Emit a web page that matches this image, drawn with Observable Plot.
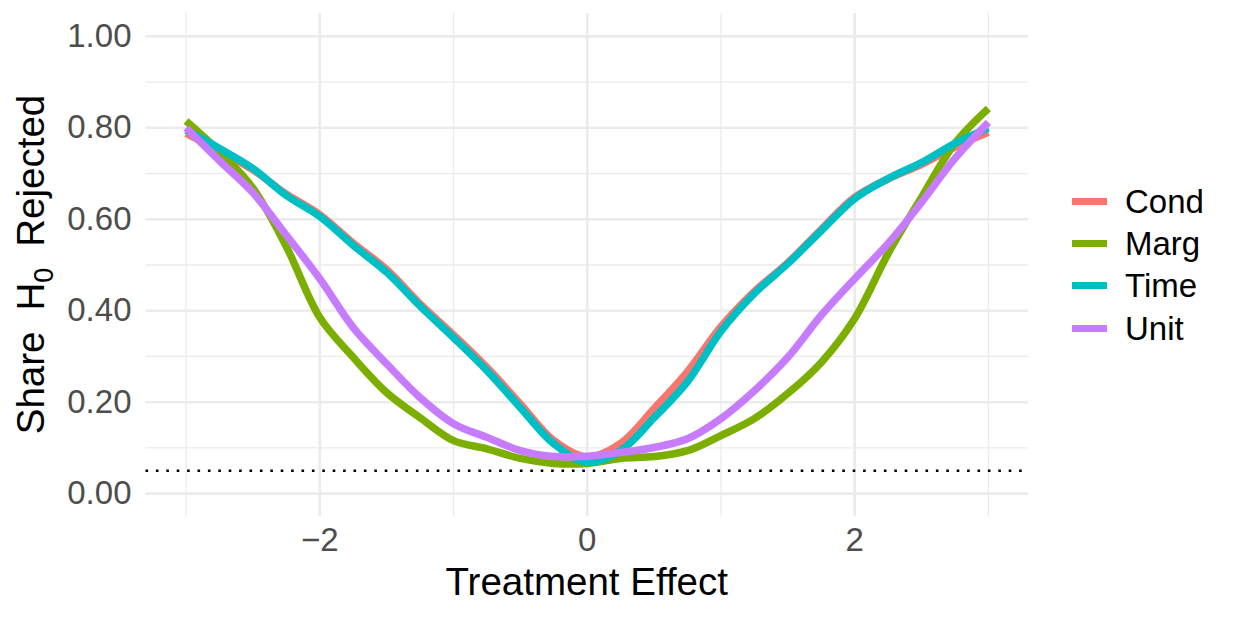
<!DOCTYPE html>
<html><head><meta charset="utf-8">
<script src="https://cdn.jsdelivr.net/npm/d3@7"></script>
<script src="https://cdn.jsdelivr.net/npm/@observablehq/plot@0.6"></script>
<style>
body{margin:0;background:#fff;}
#wrap{position:relative;width:1233px;height:617px;font-family:"Liberation Sans",Arial,sans-serif;background:#fff;}
#legend{position:absolute;left:1072px;top:180px;}
.item{display:flex;align-items:center;height:42.3px;}
.sw{width:35px;height:7px;margin-right:18px;}
.lab{font-size:33px;color:#000;line-height:1;}
</style></head><body><div id="wrap"><div id="legend"></div></div>
<script>
// ---- data ----
const effects = [-3,-2.75,-2.5,-2.25,-2,-1.75,-1.5,-1.25,-1,-0.75,-0.5,-0.25,0,0.25,0.5,0.75,1,1.25,1.5,1.75,2,2.25,2.5,2.75,3];
const cond = [0.788,0.750,0.708,0.655,0.610,0.548,0.490,0.415,0.347,0.276,0.196,0.116,0.080,0.110,0.186,0.267,0.365,0.442,0.505,0.578,0.648,0.688,0.720,0.758,0.790];
const marg = [0.815,0.748,0.668,0.540,0.385,0.298,0.221,0.166,0.116,0.098,0.077,0.066,0.066,0.077,0.081,0.094,0.127,0.164,0.219,0.287,0.383,0.525,0.648,0.766,0.842];
const time = [0.795,0.755,0.711,0.652,0.606,0.543,0.484,0.410,0.341,0.269,0.188,0.109,0.068,0.094,0.166,0.245,0.355,0.438,0.503,0.575,0.645,0.689,0.724,0.766,0.800];
const unit = [0.800,0.728,0.658,0.565,0.470,0.363,0.284,0.210,0.153,0.123,0.094,0.081,0.082,0.090,0.101,0.120,0.164,0.225,0.298,0.390,0.470,0.547,0.637,0.733,0.812];
const seriesNames = ["Cond","Marg","Time","Unit"];
const seriesColors = ["#F8766D","#7CAE00","#00BFC4","#C77CFF"];
const xTicks = [-2,0,2];
const xMinor = [-3,-1,1,3];
const yTicks = [0,0.2,0.4,0.6,0.8,1.0];
const yMinor = [0.1,0.3,0.5,0.7,0.9];
const threshold = 0.05;
const xTitle = "Treatment Effect";

const seriesValues = [cond, marg, time, unit];
const rows = [];
seriesNames.forEach((s,i)=>effects.forEach((e,j)=>rows.push({series:s,effect:e,share:seriesValues[i][j]})));

const W=1040,H=617,mL=145.5,mR=12,mT=13,mB=101;
const grid="#EBEBEB";
const plot = Plot.plot({
  width:W,height:H,marginLeft:mL,marginRight:mR,marginTop:mT,marginBottom:mB,
  style:{fontFamily:'"Liberation Sans",Arial,sans-serif',background:"white",color:"#4D4D4D"},
  x:{domain:[-3.3,3.3]},
  y:{domain:[-0.05,1.05]},
  color:{domain:seriesNames,range:seriesColors},
  marks:[
    Plot.ruleX(xMinor,{stroke:grid,strokeWidth:1.3}),
    Plot.ruleY(yMinor,{stroke:grid,strokeWidth:1.3}),
    Plot.ruleX(xTicks,{stroke:grid,strokeWidth:2.6}),
    Plot.ruleY(yTicks,{stroke:grid,strokeWidth:2.6}),
    Plot.ruleY([threshold],{stroke:"black",strokeWidth:2.6,strokeDasharray:"2.6,7.8"}),
    Plot.line(rows,{x:"effect",y:"share",z:"series",stroke:"series",strokeWidth:7.5,curve:"catmull-rom",strokeLinecap:"butt",strokeLinejoin:"round"}),
    Plot.axisX({ticks:xTicks,tickSize:0,tickPadding:11,fontSize:33,label:null,
      tickFormat:d=>d<0?"\u2212"+Math.abs(d):String(d)}),
    Plot.axisY({ticks:yTicks,tickSize:0,tickPadding:14.5,fontSize:33,label:null,tickFormat:d3.format(".2f")})
  ]
});
const wrap=document.getElementById("wrap");
wrap.insertBefore(plot, wrap.firstChild);
plot.style.position="absolute";plot.style.left="0";plot.style.top="0";

const svg=d3.select(plot);
// x title
svg.append("text").attr("x",(mL+W-mR)/2).attr("y",595).attr("text-anchor","middle")
  .attr("font-size",38.5).attr("fill","black").text(xTitle);
// y title with subscript
const yt=svg.append("text").attr("transform",`translate(44,${(mT+H-mB)/2}) rotate(-90)`)
  .attr("text-anchor","middle").attr("font-size",38.5).attr("fill","black");
yt.append("tspan").text("Share");
yt.append("tspan").attr("dx",21).text("H");
yt.append("tspan").attr("dy",9).attr("font-size",27).text("0");
yt.append("tspan").attr("dy",-9).attr("dx",21).text("Rejected");

// legend (HTML)
const lg=d3.select("#legend");
seriesNames.forEach((s,i)=>{
  const it=lg.append("div").attr("class","item");
  it.append("div").attr("class","sw").style("background",seriesColors[i]);
  it.append("div").attr("class","lab").text(s);
});
</script></body></html>
